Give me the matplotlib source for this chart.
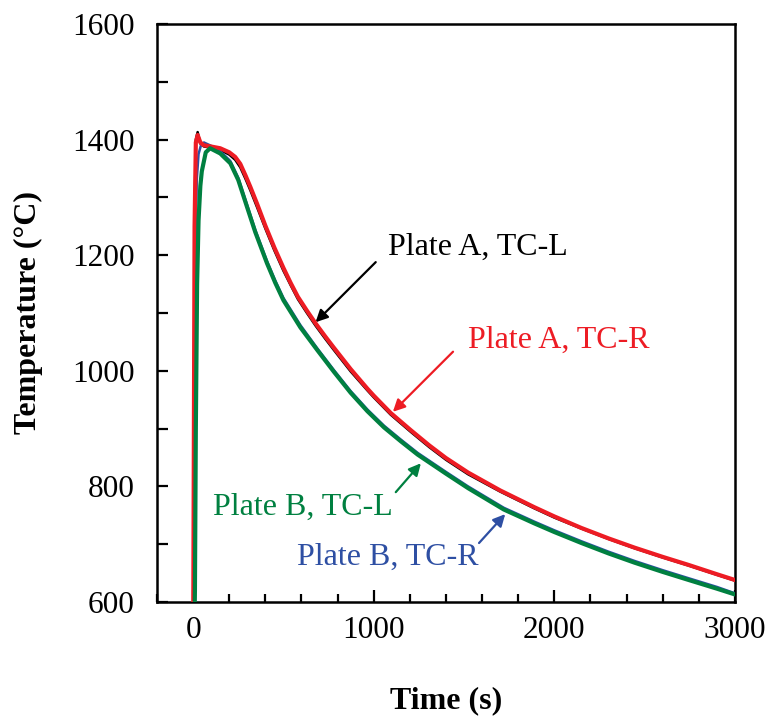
import matplotlib
matplotlib.use("Agg")
import matplotlib.pyplot as plt
from matplotlib.ticker import MultipleLocator

plt.rcParams['font.family'] = ['Liberation Serif', 'DejaVu Serif']

# Plate A, TC-R (red)
t_ar = [-50, 0, 8, 15, 25, 40, 60, 100, 150, 200, 233, 261, 290, 317, 354, 400, 450, 500, 540, 580, 630, 678, 730, 779, 872, 965, 1000, 1094, 1206, 1307, 1400, 1522, 1700, 1889, 2000, 2150, 2300, 2444, 2600, 2744, 2900, 3000]
T_ar = [450, 500, 1250, 1395, 1408, 1395, 1390, 1388, 1385, 1378, 1370, 1358, 1338, 1318, 1289, 1251, 1213, 1178, 1152, 1128, 1104, 1082, 1060, 1040, 1003, 969, 957, 927, 897, 871, 849, 824, 793, 764, 748, 728, 710, 694, 678, 664, 648, 638]

# Plate A, TC-L (black)
t_al = [-50, 0, 8, 15, 25, 40, 60, 100, 150, 200, 233, 261, 290, 317, 354, 400, 450, 500, 540, 580, 630, 678, 730, 779, 872, 965, 1000, 1094, 1206, 1307, 1400, 1522, 1700, 1889, 2000, 2150, 2300, 2444, 2600, 2744, 2900, 3000]
T_al = [450, 500, 1270, 1400, 1413, 1393, 1388, 1386, 1382, 1374, 1365, 1352, 1332, 1312, 1283, 1246, 1208, 1173, 1148, 1124, 1100, 1078, 1056, 1036, 999, 966, 954, 924, 894, 868, 846, 821, 791, 762, 746, 727, 709, 693, 677, 663, 647, 637]

# Plate B, TC-L (green)
t_bl = [-50, 5, 10, 15, 22, 30, 40, 48, 70, 94, 150, 206, 250, 300, 344, 409, 455, 500, 550, 594, 687, 780, 872, 965, 1057, 1150, 1243, 1300, 1400, 1522, 1720, 1889, 2000, 2150, 2300, 2444, 2600, 2744, 2900, 3000]
T_bl = [450, 500, 620, 900, 1150, 1260, 1320, 1345, 1378, 1385, 1376, 1359, 1330, 1282, 1240, 1186, 1152, 1122, 1097, 1075, 1036, 998, 962, 930, 902, 878, 855, 843, 822, 797, 760, 736, 721, 702, 684, 668, 652, 638, 623, 613]

# Plate B, TC-R (blue)
t_br = [-50, 0, 6, 12, 20, 30, 45, 60, 94, 150, 206, 250, 300, 344, 409, 455, 500, 550, 594, 687, 780, 872, 965, 1057, 1150, 1243, 1300, 1400, 1522, 1720, 1889, 2000, 2150, 2300, 2444, 2600, 2744, 2900, 3000]
T_br = [450, 500, 800, 1150, 1330, 1375, 1392, 1395, 1390, 1380, 1363, 1334, 1286, 1244, 1190, 1156, 1126, 1101, 1079, 1039, 1001, 965, 933, 905, 881, 858, 846, 825, 800, 763, 739, 724, 705, 687, 671, 655, 641, 626, 615]

red = '#ED1C24'
green = '#008040'
blue = '#2E4FA3'

fig = plt.figure(figsize=(7.7, 7.23), dpi=100)
ax = fig.add_axes([0.2039, 0.1674, 0.9545 - 0.2039, 0.9668 - 0.1674])

ax.plot(t_al, T_al, color='black', lw=1.8, zorder=3)
ax.plot(t_ar, T_ar, color=red, lw=3.0, zorder=4)
ax.plot(t_br, T_br, color=blue, lw=1.8, zorder=3)
ax.plot(t_bl, T_bl, color=green, lw=3.0, zorder=4)

fs = 23
arrow = dict(arrowstyle='-|>', lw=1.6, mutation_scale=18, shrinkA=0, shrinkB=0)
ax.annotate('', xy=(678, 1084), xytext=(1011, 1188), arrowprops=dict(color='black', **arrow))
ax.text(1578, 1214, 'Plate A, TC-L', fontsize=fs, color='black', ha='center', va='center')
ax.annotate('', xy=(1106, 929), xytext=(1439, 1033), arrowprops=dict(color=red, **arrow))
ax.text(2022, 1053, 'Plate A, TC-R', fontsize=fs, color=red, ha='center', va='center')
ax.annotate('', xy=(1261, 840), xytext=(1122, 790), arrowprops=dict(color=green, **arrow))
ax.text(606, 763, 'Plate B, TC-L', fontsize=fs, color=green, ha='center', va='center')
ax.annotate('', xy=(1728, 752), xytext=(1583, 702), arrowprops=dict(color=blue, **arrow))
ax.text(1078, 678, 'Plate B, TC-R', fontsize=fs, color=blue, ha='center', va='center')

ax.set_xlim(-200, 3000)
ax.set_ylim(600, 1600)
ax.xaxis.set_major_locator(MultipleLocator(1000))
ax.xaxis.set_minor_locator(MultipleLocator(200))
ax.yaxis.set_major_locator(MultipleLocator(200))
ax.yaxis.set_minor_locator(MultipleLocator(100))
ax.tick_params(which='both', direction='in', top=False, right=False, width=1.6, labelsize=22.5)
ax.tick_params(axis='x', which='major', length=9, pad=10)
ax.tick_params(axis='x', which='minor', length=6)
ax.tick_params(axis='y', which='both', length=8, pad=16)
for s in ax.spines.values():
    s.set_linewidth(1.8)

ax.set_xlabel('Time (s)', fontsize=23, fontweight='bold', labelpad=30)
ax.set_ylabel('Temperature (°C)', fontsize=23, fontweight='bold', labelpad=21)

fig.savefig('out.png', dpi=100)
